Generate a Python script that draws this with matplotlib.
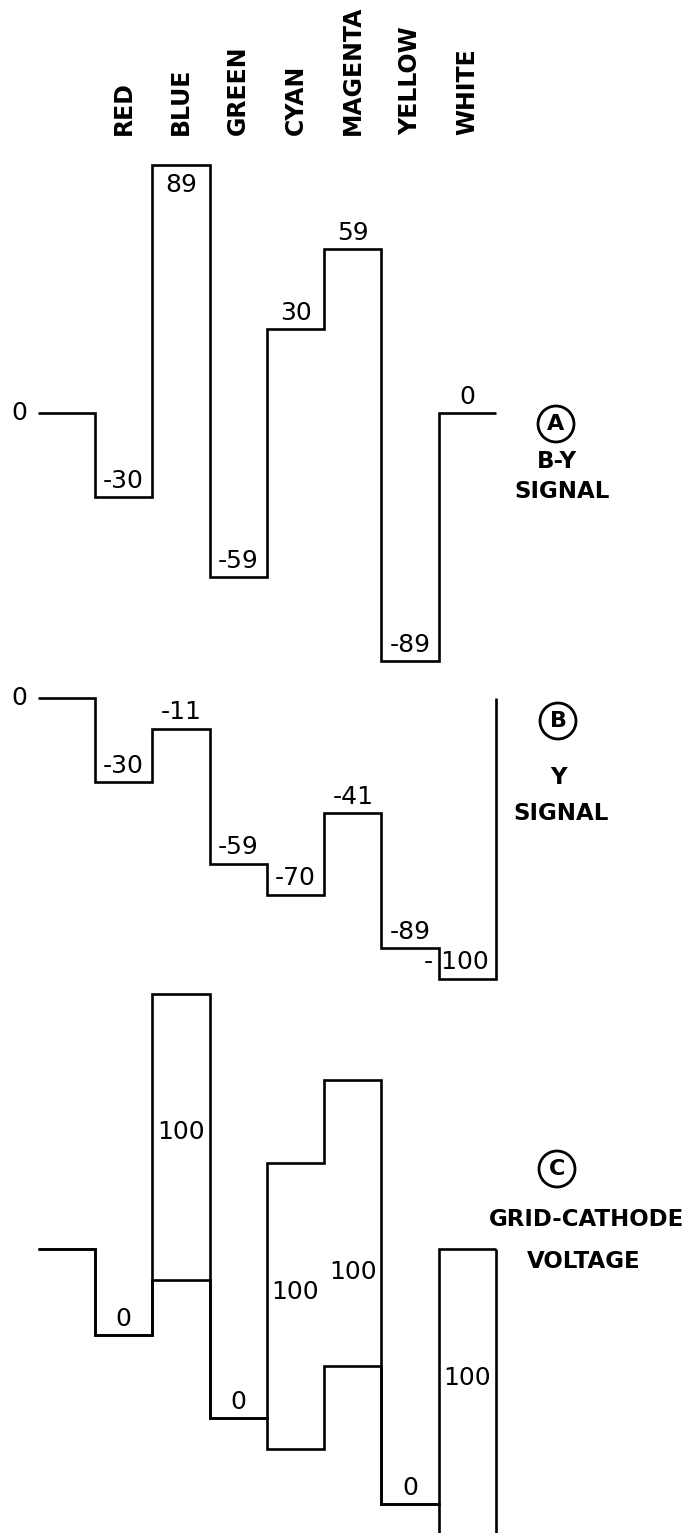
import matplotlib

matplotlib.use("Agg")
import matplotlib.pyplot as plt
import numpy as np
from matplotlib.transforms import blended_transform_factory

# colour-bar sequence and the two signal levels for each bar
COLORS = ["RED", "BLUE", "GREEN", "CYAN", "MAGENTA", "YELLOW", "WHITE"]
B_MINUS_Y = [-30, 89, -59, 30, 59, -89, 0]
Y_SIGNAL = [-30, -11, -59, -70, -41, -89, -100]

# where the "100" labels sit inside the grid-cathode boxes (fraction from bottom)
BOX_LABEL_FRAC = [0.5, 0.52, 0.5, 0.55, 0.33, 0.5, 0.55]

FIG_W, FIG_H = 689, 1535
DPI = 100
COL_LEFT_PX = 95.0
COL_WIDTH_PX = 57.3
LINE_W = 1.9
NUM_SIZE = 18
WORD_SIZE = 16.5

plt.rcParams["font.family"] = ["DejaVu Sans"]


def fig_xy(px, py):
    return px / FIG_W, 1.0 - py / FIG_H


def panel_axes(fig, top_px, bottom_px, zero_px, px_per_unit):
    ax = fig.add_axes([0.0, 1.0 - bottom_px / FIG_H, 1.0, (bottom_px - top_px) / FIG_H])
    ax.set_xlim(-COL_LEFT_PX / COL_WIDTH_PX, (FIG_W - COL_LEFT_PX) / COL_WIDTH_PX)
    ax.set_ylim((zero_px - bottom_px) / px_per_unit, (zero_px - top_px) / px_per_unit)
    ax.axis("off")
    return ax


def draw_trace(ax, values):
    n = len(values)
    xs = list(range(-1, n + 1)) + [n]
    ys = [0] + list(values) + [values[-1], 0]
    ax.plot(xs, ys, drawstyle="steps-post", color="black", linewidth=LINE_W,
            solid_joinstyle="miter", solid_capstyle="butt")


def value_label(ax, x, y, text, dy_px=0, dx_px=0, ha="center"):
    ax.annotate(text, (x, y), xytext=(dx_px, dy_px), textcoords="offset pixels",
                ha=ha, va="center", fontsize=NUM_SIZE, color="black")


def side_text(px, py, text):
    fig.text(*fig_xy(px, py), text, ha="center", va="center",
             fontsize=WORD_SIZE, fontweight="bold", color="black")


def circled(px, py, letter):
    fig.text(*fig_xy(px, py), letter, ha="center", va="center", fontsize=16,
             fontweight="bold", color="black",
             bbox=dict(boxstyle="circle,pad=0.36", fc="none", ec="black", lw=2.0))


fig = plt.figure(figsize=(FIG_W / DPI, FIG_H / DPI), dpi=DPI)
fig.patch.set_facecolor("white")

ax_a = panel_axes(fig, 0, 680, 413, 2.785)
ax_b = panel_axes(fig, 680, 1000, 698, 2.81)
ax_c = panel_axes(fig, 960, 1533, 1249, 2.86)

# column headings
head_tf = blended_transform_factory(ax_a.transData, fig.transFigure)
for i, name in enumerate(COLORS):
    ax_a.text(i + 0.5, 1.0 - 135 / FIG_H, name, rotation=90, ha="center", va="bottom",
              transform=head_tf, fontsize=WORD_SIZE + 0.5, fontweight="bold")

# (A) B-Y signal
draw_trace(ax_a, B_MINUS_Y)
value_label(ax_a, -1, 0, "0", dx_px=-18)
for i, v in enumerate(B_MINUS_Y):
    below = v == max(B_MINUS_Y)
    value_label(ax_a, i + 0.5, v, str(v), dy_px=-20 if below else 16)
circled(556, 424, "A")
side_text(557, 462, "B-Y")
side_text(562, 492, "SIGNAL")

# (B) Y signal
draw_trace(ax_b, Y_SIGNAL)
value_label(ax_b, -1, 0, "0", dx_px=-18)
for i, v in enumerate(Y_SIGNAL):
    text = str(v)
    if len(text) > 3:
        value_label(ax_b, i + 1, v, text[0] + " " + text[1:], dy_px=17, dx_px=-7, ha="right")
    else:
        value_label(ax_b, i + 0.5, v, text, dy_px=16.5)
circled(558, 721, "B")
side_text(558, 778, "Y")
side_text(561, 814, "SIGNAL")

# (C) grid-cathode voltage: B-Y on the grid against -Y on the cathode
draw_trace(ax_c, B_MINUS_Y)
draw_trace(ax_c, Y_SIGNAL)
for i, (top, bottom) in enumerate(zip(B_MINUS_Y, Y_SIGNAL)):
    gap = top - bottom
    if gap == 0:
        value_label(ax_c, i + 0.5, bottom, str(gap), dy_px=16)
    else:
        value_label(ax_c, i + 0.5, bottom + gap * BOX_LABEL_FRAC[i], str(gap))
circled(557, 1169, "C")
side_text(587, 1220, "GRID-CATHODE")
side_text(584, 1261, "VOLTAGE")

fig.savefig("out.png", dpi=DPI, facecolor="white")
plt.close(fig)
